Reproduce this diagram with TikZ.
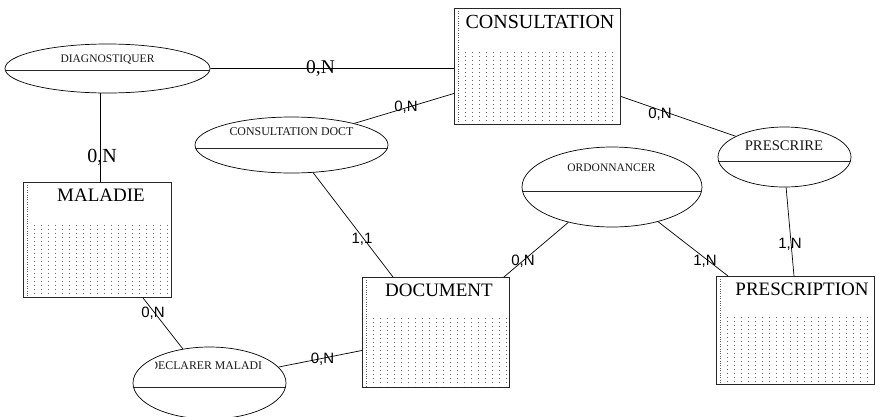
\documentclass[tikz,border=0pt]{standalone}
\usepackage{fontspec}
\setmainfont{Liberation Serif}
\newfontfamily\cardfont{Liberation Sans}
\usetikzlibrary{shapes.geometric}
\tikzset{
  entitynode/.style={draw=black!85, line width=0.9pt, rectangle, inner sep=0pt, anchor=north west},
  relnode/.style={draw=black, line width=0.7pt, ellipse, inner sep=0pt},
  divider/.style={draw=black!85, line width=0.9pt},
  link/.style={draw=black, line width=0.7pt},
  dotcol/.style={draw=black!60, line width=0.8pt, dash pattern=on 0.8pt off 3.2pt},
  edgedots/.style={draw=black!65, line width=0.8pt, dash pattern=on 0.8pt off 1.6pt},
  enttitle/.style={inner sep=0pt, anchor=base, font=\fontsize{19}{21}\selectfont},
  reltitle/.style={inner sep=0pt, anchor=base, font=\fontsize{11.5}{13}\selectfont, text=black!90},
  cardsans/.style={inner sep=0pt, anchor=base, font=\cardfont\fontsize{15}{17}\selectfont},
  cardserif/.style={inner sep=0pt, anchor=base, font=\fontsize{19.5}{21}\selectfont}
}
\newcommand{\entitydots}[5]{%
  \draw[edgedots] (#1+4,#2+3) -- (#1+4,#4-1);
  \pgfmathsetmacro{\dxa}{#1+11}%
  \pgfmathsetmacro{\dxb}{#1+18}%
  \pgfmathsetmacro{\dxe}{#3-3}%
  \foreach \xx in {\dxa,\dxb,...,\dxe} {\draw[dotcol] (\xx,#5) -- (\xx,#4-1);}
}
\begin{document}
\begin{tikzpicture}[x=1pt,y=-1pt]
\useasboundingbox (0,0) rectangle (881,416);
\fill[white] (0,0) rectangle (881,416);

% ---------- entities ----------
\entitydots{454}{8}{620}{124}{52}
\node[entitynode, minimum width=166pt, minimum height=116pt] (consult) at (454,8) {};
\node[enttitle, font=\fontsize{20}{22}\selectfont] (consultT) at (540,28) {CONSULTATION};

\entitydots{23}{182}{171}{297}{225}
\node[entitynode, minimum width=148pt, minimum height=115pt] (maladie) at (23,182) {};
\node[enttitle] (maladieT) at (101,201) {MALADIE};

\entitydots{362}{277}{509}{387}{318}
\node[entitynode, minimum width=147pt, minimum height=110pt] (doc) at (362,277) {};
\node[enttitle] (docT) at (439,296) {DOCUMENT};

\entitydots{716}{276}{874}{384}{317}
\node[entitynode, minimum width=158pt, minimum height=108pt] (prescr) at (716,276) {};
\node[enttitle] (prescrT) at (802,295) {PRESCRIPTION};

% ---------- relations ----------
\node[relnode, minimum width=205pt, minimum height=49pt] (diag) at (107.5,68.5) {};
\node[reltitle] (diagT) at (107.5,62.7) {DIAGNOSTIQUER};
\draw[divider] ([yshift=-1.5pt]diag.west) -- ([yshift=-1.5pt]diag.east);

\node[relnode, minimum width=193pt, minimum height=56pt] (cdoct) at (291.5,145) {};
\node[reltitle, font=\fontsize{11.9}{13}\selectfont] (cdoctT) at (291.5,135.7) {CONSULTATION DOCT};
\draw[divider] ([yshift=-3pt]cdoct.west) -- ([yshift=-3pt]cdoct.east);

\node[relnode, minimum width=180pt, minimum height=80pt] (ordo) at (612,187) {};
\node[reltitle] (ordoT) at (611.5,171) {ORDONNANCER};
\draw[divider] ([yshift=-4pt]ordo.west) -- ([yshift=-4pt]ordo.east);

\node[relnode, minimum width=133pt, minimum height=60pt] (presc) at (784.5,157) {};
\node[reltitle, font=\fontsize{14.7}{16}\selectfont] (prescT) at (784,150.7) {PRESCRIRE};
\draw[divider] ([yshift=-4pt]presc.west) -- ([yshift=-4pt]presc.east);

\node[relnode, minimum width=153pt, minimum height=72pt] (decl) at (209.5,383) {};
\begin{scope}
  \clip (155,340) rectangle (261,380);
  \node[reltitle, font=\fontsize{11.8}{13}\selectfont] (declT) at (209.5,369.3) {DECLARER MALADIE};
\end{scope}
\draw[divider] ([yshift=-4pt]decl.west) -- ([yshift=-4pt]decl.east);

% ---------- connectors ----------
\draw[link] (diag.east) -- ([yshift=-2pt]consult.west);
\node[cardserif] (c1) at (320.5,73) {0,N};

\draw[link] ([xshift=-7.5pt]diag.south) -- ([xshift=77pt]maladie.north west);
\node[cardserif, font=\fontsize{20}{22}\selectfont] (c2) at (102,162) {0,N};

\draw[link] (cdoct.19) -- ([yshift=-27pt]consult.west);
\node[cardsans] (c3) at (406,111) {0,N};

\draw[link] (cdoct.-52) -- ([xshift=31pt]doc.north west);
\node[cardsans] (c4) at (362,243) {1,1};

\draw[link] ([yshift=-30pt]consult.east) -- (presc.157);
\node[cardsans] (c5) at (660,118) {0,N};

\draw[link] (presc.-87) -- ([xshift=78pt]prescr.north west);
\node[cardsans] (c6) at (790,248) {1,N};

\draw[link] (ordo.-141.5) -- ([xshift=-6pt]doc.north east);
\node[cardsans] (c7) at (523,265) {0,N};

\draw[link] (ordo.-37) -- ([xshift=12pt]prescr.north west);
\node[cardsans] (c8) at (705,265) {1,N};

\draw[link] ([xshift=120pt]maladie.south west) -- (decl.128);
\node[cardsans] (c9) at (153,317) {0,N};

\draw[link] (decl.13) -- ([yshift=-18pt]doc.west);
\node[cardsans] (c10) at (322.5,363) {0,N};
\end{tikzpicture}
\end{document}
